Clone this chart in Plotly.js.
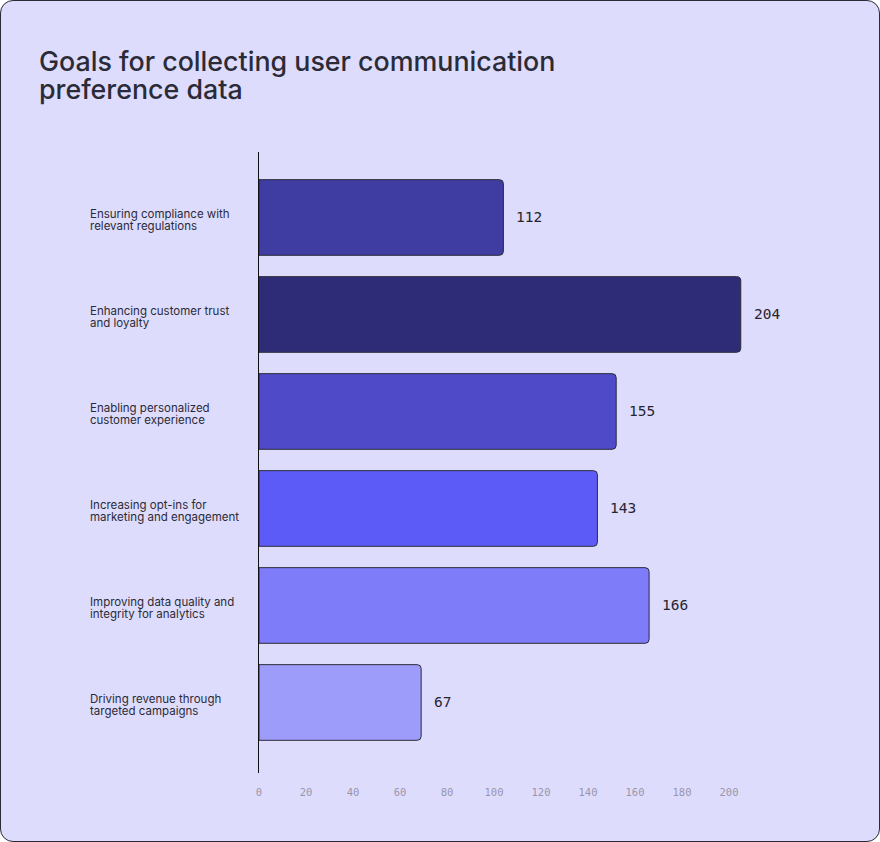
<!DOCTYPE html>
<html>
<head>
<meta charset="utf-8">
<script src="https://cdn.plot.ly/plotly-3.0.1.min.js"></script>
<style>
  html, body { margin: 0; padding: 0; background: #ffffff; }
  #card { position: absolute; left: 0; top: 0; width: 880px; height: 842px; box-sizing: border-box;
          border: 1px solid #2b2b38; border-radius: 13px; background: #dedcfc; overflow: hidden; }
  #chart { position: absolute; left: 0; top: 0; width: 880px; height: 842px; }
</style>
</head>
<body>
<div id="card"></div>
<div id="chart"></div>
<script>
const titleLines = ["Goals for collecting user communication", "preference data"];
const categories = [
  "Ensuring compliance with<br>relevant regulations",
  "Enhancing customer trust<br>and loyalty",
  "Enabling personalized<br>customer experience",
  "Increasing opt-ins for<br>marketing and engagement",
  "Improving data quality and<br>integrity for analytics",
  "Driving revenue through<br>targeted campaigns"
];
const barValues = [104, 205, 152, 144, 166, 69];
const valueLabels = ["112", "204", "155", "143", "166", "67"];
const barColors = ["#3f3da1", "#2f2c77", "#4f4bc8", "#5d5bf7", "#7f7cf9", "#9e9cfa"];
const tickValues = [0, 20, 40, 60, 80, 100, 120, 140, 160, 180, 200];

const W = 880, H = 842;
const mL = 259, mR = 128, mT = 152, mB = 69;
const plotW = W - mL - mR, plotH = H - mT - mB;
const pxToPaperY = py => (H - mB - py) / plotH;

const trace = {
  type: "bar",
  orientation: "h",
  y: categories.map((c, i) => i),
  x: barValues,
  width: 0.78,
  marker: { color: barColors, line: { color: "#2b2b38", width: 1 }, cornerradius: 4 },
  hoverinfo: "none"
};

const annotations = [];
// category labels, left aligned, tight line spacing
categories.forEach((c, i) => {
  const lines = c.split("<br>");
  lines.forEach((ln, j) => {
    annotations.push({
      xref: "paper", yref: "y",
      x: (88 - mL) / plotW, y: i,
      xanchor: "left", yanchor: "middle", align: "left",
      yshift: (lines.length - 1) * 6.25 - 2.5 - j * 12.5,
      text: ln, showarrow: false,
      font: { family: "Inter, Noto Sans, sans-serif", size: 11.5, color: "#2b2b38" }
    });
  });
});
// value labels
barValues.forEach((v, i) => {
  annotations.push({
    xref: "x", yref: "y", x: v, y: i,
    xanchor: "left", yanchor: "middle", xshift: 11,
    text: valueLabels[i], showarrow: false,
    font: { family: "DejaVu Sans Mono, Liberation Mono, monospace", size: 14.5, color: "#25252f" }
  });
});
// title lines
titleLines.forEach((t, j) => {
  annotations.push({
    xref: "paper", yref: "paper",
    x: (37 - mL) / plotW, y: pxToPaperY(61 + j * 28),
    xanchor: "left", yanchor: "middle", align: "left",
    text: t, showarrow: false,
    font: { family: "Inter, Noto Sans, sans-serif", size: 26.8, color: "#2b2b38", weight: 500 }
  });
});

const layout = {
  width: W, height: H,
  margin: { l: mL, r: mR, t: mT, b: mB, pad: 0 },
  paper_bgcolor: "rgba(0,0,0,0)",
  plot_bgcolor: "rgba(0,0,0,0)",
  showlegend: false,
  bargap: 0.2,
  xaxis: {
    range: [0, plotW / 2.35],
    tickvals: tickValues,
    ticktext: tickValues.map(String),
    showgrid: false, zeroline: false, showline: false,
    ticks: "", ticklabelstandoff: 11,
    tickfont: { family: "DejaVu Sans Mono, Liberation Mono, monospace", size: 10.5, color: "#9896ad" },
    fixedrange: true
  },
  yaxis: {
    range: [5.727, -0.675],
    showticklabels: false,
    showgrid: false, zeroline: false,
    showline: true, linecolor: "#111111", linewidth: 1,
    ticks: "",
    fixedrange: true
  },
  annotations: annotations
};

Plotly.newPlot("chart", [trace], layout, { displayModeBar: false, staticPlot: true });
</script>
</body>
</html>
